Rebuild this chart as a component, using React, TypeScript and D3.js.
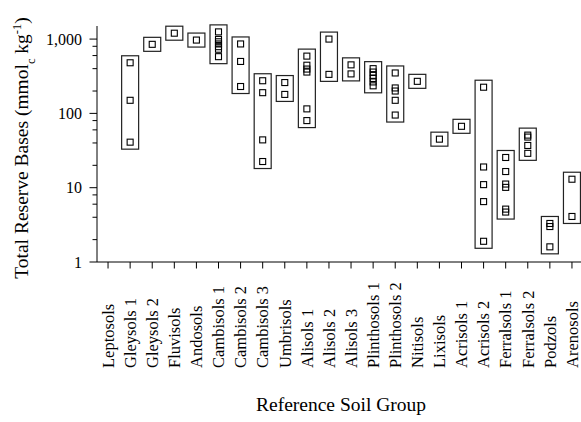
import * as d3 from 'd3';

// Reference soil groups along the x axis
const categories = [
  'Leptosols', 'Gleysols 1', 'Gleysols 2', 'Fluvisols', 'Andosols',
  'Cambisols 1', 'Cambisols 2', 'Cambisols 3', 'Umbrisols', 'Alisols 1',
  'Alisols 2', 'Alisols 3', 'Plinthosols 1', 'Plinthosols 2', 'Nitisols',
  'Lixisols', 'Acrisols 1', 'Acrisols 2', 'Ferralsols 1', 'Ferralsols 2',
  'Podzols', 'Arenosols',
];

// Total reserve bases per sample (mmolc/kg), one list per group
const reserveBases: number[][] = [
  [],
  [480, 150, 41],
  [850],
  [1200],
  [970],
  [1250, 990, 920, 860, 790, 730, 580],
  [860, 500, 230],
  [275, 190, 44, 22.5],
  [260, 180],
  [590, 445, 395, 360, 115, 80],
  [1000, 335],
  [450, 340],
  [400, 360, 325, 295, 265, 235],
  [350, 220, 200, 150, 95],
  [270],
  [45],
  [67],
  [225, 19, 11, 6.5, 1.9],
  [25.5, 16.5, 11.2, 10.1, 5.15, 4.7],
  [51, 48, 37, 29],
  [3.3, 3.0, 1.6],
  [13, 4.1],
];

const majorTicks = [1, 10, 100, 1000];
const minorTicks = [2, 4, 6, 8, 20, 40, 60, 80, 200, 400, 600, 800];

const width = 581;
const height = 422;
const font = '"Liberation Serif", "Times New Roman", serif';

export default function App() {
  const x = d3.scalePoint<string>().domain(categories).range([97, 583]).padding(0.5);
  const y = d3.scaleLog().domain([1, 1500]).range([262, 26]);
  const fmt = d3.format(',');
  const boxPad = 7;
  const boxW = 17;
  const mark = 6;

  return (
    <div style={{ position: 'absolute', left: 0, top: 0 }}>
      <svg width={width} height={height} viewBox={`0 0 ${width} ${height}`} style={{ display: 'block', background: '#fff' }}>
        {/* axes */}
        <line x1={97} x2={97} y1={26} y2={262} stroke="#000" strokeWidth={1} />
        <line x1={97} x2={581} y1={262} y2={262} stroke="#000" strokeWidth={1} />
        {majorTicks.map(t => (
          <g key={'M' + t}>
            <line x1={89.5} x2={97} y1={y(t)} y2={y(t)} stroke="#000" />
            <text x={82} y={y(t)} dy="0.35em" textAnchor="end" fontFamily={font} fontSize={16}>{fmt(t)}</text>
          </g>
        ))}
        {minorTicks.map(t => (
          <line key={'m' + t} x1={92.5} x2={97} y1={y(t)} y2={y(t)} stroke="#000" />
        ))}
        {categories.map(c => (
          <g key={c}>
            <line x1={x(c)} x2={x(c)} y1={262} y2={268.5} stroke="#000" />
            <text
              transform={`translate(${x(c)},368) rotate(-90)`}
              dy="0.35em"
              textAnchor="start"
              fontFamily={font}
              fontSize={16.5}
            >{c}</text>
          </g>
        ))}

        {/* boxes and sample markers */}
        {categories.map((c, i) => {
          const vals = reserveBases[i];
          if (!vals.length) return null;
          const cx = x(c) as number;
          const top = y(d3.max(vals) as number) - boxPad;
          const bottom = y(d3.min(vals) as number) + boxPad;
          return (
            <g key={'b' + c}>
              <rect x={cx - boxW / 2} y={top} width={boxW} height={bottom - top} fill="none" stroke="#222" strokeWidth={1.2} />
              {vals.map((v, j) => (
                <rect key={j} x={cx - mark / 2} y={y(v) - mark / 2} width={mark} height={mark} fill="none" stroke="#000" strokeWidth={1.1} />
              ))}
            </g>
          );
        })}

        {/* axis titles */}
        <text transform="translate(21,148) rotate(-90)" dy="0.35em" textAnchor="middle" fontFamily={font} fontSize={19.5}>
          Total Reserve Bases (mmol
          <tspan baselineShift="sub" fontSize={12.5}>c</tspan>
          <tspan> kg</tspan>
          <tspan baselineShift="super" fontSize={12.5}>-1</tspan>
          <tspan>)</tspan>
        </text>
        <text x={341} y={411} textAnchor="middle" fontFamily={font} fontSize={19.5}>Reference Soil Group</text>
      </svg>
    </div>
  );
}
